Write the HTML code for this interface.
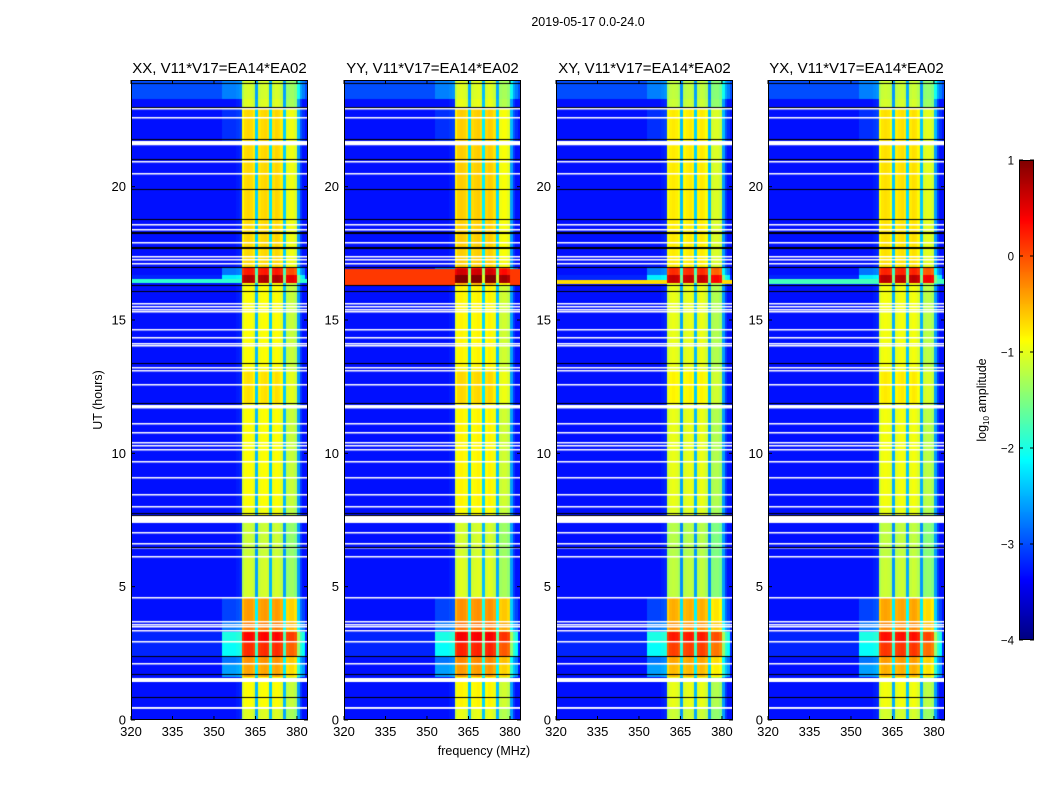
<!DOCTYPE html>
<html><head><meta charset="utf-8">
<style>
body{margin:0;background:#fff;font-family:"Liberation Sans","DejaVu Sans",sans-serif;}
#wrap{position:relative;width:1050px;height:800px;overflow:hidden;background:#fff;}
canvas{position:absolute;}
svg{position:absolute;left:0;top:0;}
</style></head>
<body>
<div id="wrap">
<svg id="ov" width="1050" height="800"></svg>
</div>
<script>
// ---- data ----
const panelTitles = ["XX, V11*V17=EA14*EA02","YY, V11*V17=EA14*EA02","XY, V11*V17=EA14*EA02","YX, V11*V17=EA14*EA02"];
const xTicks = [320,335,350,365,380];
const yTicks = [0,5,10,15,20];
const cbTicks = [1,0,-1,-2,-3,-4];
// baseline log10 amplitude per 1 MHz channel, 320..383 MHz
const channelBase = [
-3.3,-3.3,-3.3,-3.3,-3.3,-3.3,-3.3,-3.3,-3.3,-3.3,
-3.3,-3.3,-3.3,-3.3,-3.3,-3.3,-3.3,-3.3,-3.3,-3.3,
-3.3,-3.3,-3.3,-3.3,-3.3,-3.3,-3.3,-3.3,-3.3,-3.3,
-3.3,-3.3,-3.3,-3.3,-3.3,-3.3,-3.3,-3.3,-3.25,-3.2,
-1.1,-0.95,-0.92,-0.95,-1.05,-2.5,
-1.0,-0.95,-0.92,-0.98,-2.4,
-0.98,-0.92,-0.95,-1.05,-2.5,
-1.25,-1.2,-1.2,-1.3,-2.6,
-3.1,-3.3,-3.3];
// time segments (hours): band boost, halo boost, background offset
const segStart = [0,   0.45,1.6, 2.1, 2.4, 2.9, 3.3, 3.7, 4.6, 6.1, 7.7, 8.0, 11.9,13.1,16.37,16.7,17.0,21.7,23.0,23.3];
const segEnd   = [0.45,1.6, 2.1, 2.4, 2.9, 3.3, 3.7, 4.6, 6.1, 7.7, 8.0, 11.9,13.1,16.37,16.7,17.0,21.7,23.0,23.3,24];
const segBoost = [-0.1,0.05,0.5, 0.6, 1.1, 1.3, 0.7, 0.55,-0.15,-0.2,0,   0.05,0.2, 0.05,1.7, 1.2, 0.25,0.25,-0.1,-0.15];
const segHalo  = [0,   0,   0.7, 0.5, 1.1, 1.2, 0.5, 0.25,0,   0,   0,   0,   0,   0,   1.0, 0.5, 0,   0.15,0,   0.25];
const segBg    = [0,   0,   0,   0,   0.1, 0.1, 0,   0,   0,   0,   0,   0,   0,   0,   0.1, 0,   0,   0,   0,   0.3];
// flagged (white) rows: start time, height (hours)
const whiteT = [0.42,1.42,2.1,2.9,3.33,3.48,3.56,3.67,4.57,6.1,6.43,6.6,7.0,7.38,7.98,8.43,9.06,9.66,10.1,10.26,10.38,10.75,11.08,11.68,12.55,13.08,13.2,14.03,14.1,14.3,14.6,15.3,15.36,15.47,15.6,17.1,17.23,17.35,17.86,18.35,18.54,20.45,20.9,21.55,22.55,22.9];
const whiteH = [0.07,0.15,0.05,0.05,0.05,0.04,0.04,0.04,0.05,0.05,0.05,0.05,0.05,0.26,0.05,0.05,0.05,0.05,0.05,0.05,0.05,0.05,0.05,0.13,0.05,0.05,0.05,0.05,0.05,0.05,0.05,0.05,0.05,0.05,0.05,0.05,0.05,0.05,0.05,0.05,0.05,0.05,0.05,0.16,0.05,0.05];
// black (zero) rows: time
const blackT = [0.86,1.72,2.4,6.5,7.68,7.75,11.87,13.37,16.08,16.3,17.0,17.7,17.75,18.25,18.3,18.8,19.9,21.05,21.8,22.97,23.9];
// per-panel broadband stripe near 16.4 h
const stripeT0 = [16.37,16.3,16.35,16.35];
const stripeT1 = [16.55,16.93,16.5,16.55];
const stripeLevel = [-1.9,0.1,-0.7,-1.8];
const panelOffset = [0,0.05,-0.1,-0.05];

// ---- geometry ----
const panelX = [131,344,556,768], PW=177, PT=80, PH=640;
const fMin=320,fMax=384,tMin=0,tMax=24, vMin=-4, vMax=1;
const xs=(f,i)=>panelX[i]+(f-fMin)/(fMax-fMin)*PW;
const ys=t=>PT+PH-(t-tMin)/(tMax-tMin)*PH;
function jet(val){const n=Math.max(0,Math.min(1,(val-vMin)/(vMax-vMin)));
 const cl=x=>Math.round(255*Math.max(0,Math.min(1,x)));
 return [cl(1.5-Math.abs(4*n-3)),cl(1.5-Math.abs(4*n-2)),cl(1.5-Math.abs(4*n-1))];}
function segOf(t){for(let k=0;k<segStart.length;k++) if(t>=segStart[k]&&t<segEnd[k]) return k; return -1;}
const wrap=document.getElementById('wrap');
const NS="http://www.w3.org/2000/svg";
const ov=document.getElementById('ov');
function txt(x,y,s,size,anchor,name,rot){const e=document.createElementNS(NS,'text');
 e.setAttribute('x',x);e.setAttribute('y',y);e.setAttribute('font-size',size);
 e.setAttribute('text-anchor',anchor);e.setAttribute('fill','#000');
 e.setAttribute('font-family','"Liberation Sans","DejaVu Sans",sans-serif');
 if(rot) e.setAttribute('transform',rot);
 e.textContent=s;
 
 
 ov.appendChild(e);return e;}
function line(x1,y1,x2,y2,name,w){const e=document.createElementNS(NS,'line');
 e.setAttribute('x1',x1);e.setAttribute('y1',y1);e.setAttribute('x2',x2);e.setAttribute('y2',y2);
 e.setAttribute('stroke','#000');e.setAttribute('stroke-width',w||1);
 
 
 ov.appendChild(e);}
const nCh=channelBase.length;
function isBand(ch){const f=fMin+ch;return f>=360&&f<380;}
function isHalo(ch){const f=fMin+ch;return (f>=353&&f<360)||(f>=380&&f<383);}

for(let p=0;p<4;p++){
 const cv=document.createElement('canvas');
 cv.width=PW;cv.height=PH;cv.style.left=panelX[p]+'px';cv.style.top=PT+'px';
 
 
 wrap.insertBefore(cv,ov);
 const ctx=cv.getContext('2d');const img=ctx.createImageData(PW,PH);
 for(let y=0;y<PH;y++){
  const t=tMax-(y+0.5)/PH*(tMax-tMin);
  const k=segOf(t);
  const b=k>=0?segBoost[k]:0,h=k>=0?segHalo[k]:0,bg=k>=0?segBg[k]:0;
  const inStripe=t>=stripeT0[p]&&t<stripeT1[p];
  for(let x=0;x<PW;x++){
   const ch=Math.min(nCh-1,Math.floor((x+0.5)/PW*(fMax-fMin)));
   let v=channelBase[ch];
   if(isBand(ch)){v+= (v>-2?b:b*0.6)+panelOffset[p];}
   else if(isHalo(ch)){v+=h+bg;}
   else v+=bg;
   if(inStripe&&!isBand(ch)) v=Math.max(v,stripeLevel[p]);
   if(inStripe&&isBand(ch)&&p===1) v+=0.3;
   const col=jet(v);const i=(y*PW+x)*4;
   img.data[i]=col[0];img.data[i+1]=col[1];img.data[i+2]=col[2];img.data[i+3]=255;
  }
 }
 ctx.putImageData(img,0,0);
 for(let j=0;j<whiteT.length;j++){
  const y0=PH-(whiteT[j]+whiteH[j])/(tMax-tMin)*PH,y1=PH-whiteT[j]/(tMax-tMin)*PH;
  ctx.fillStyle='#fff';ctx.fillRect(0,Math.round(y0),PW,Math.max(1.5,y1-y0));
 }
 for(let j=0;j<blackT.length;j++){
  ctx.fillStyle='#000';ctx.fillRect(0,Math.round(PH-blackT[j]/(tMax-tMin)*PH),PW,1);
 }
 const r=document.createElementNS(NS,'rect');
 r.setAttribute('x',panelX[p]+0.5);r.setAttribute('y',PT+0.5);r.setAttribute('width',PW-1);r.setAttribute('height',PH-1);
 r.setAttribute('fill','none');r.setAttribute('stroke','#000');
 
 
 ov.appendChild(r);
 txt(panelX[p]+PW/2,73,panelTitles[p],15,'middle','panel-title');
 xTicks.forEach(f=>{const X=xs(f,p);line(X,PT+PH,X,PT+PH-4,'x-tick');line(X,PT,X,PT+4,'x-tick');
  txt(X,736,String(f),13,'middle','x-tick-label');});
 yTicks.forEach(t=>{const Y=ys(t);line(panelX[p],Y,panelX[p]+4,Y,'y-tick');line(panelX[p]+PW,Y,panelX[p]+PW-4,Y,'y-tick');
  txt(panelX[p]-5,Y+4.5,String(t),13,'end','y-tick-label');});
}
txt(588,26,"2019-05-17 0.0-24.0",12.5,'middle','figure-title');
txt(484,755,"frequency (MHz)",12.5,'middle','x-axis-title');
txt(102,400,"UT (hours)",12.5,'middle','y-axis-title','rotate(-90 102 400)');
// colorbar
const cbX=1019,cbW=15,cbT=160,cbH=480;
const cb=document.createElement('canvas');cb.width=cbW;cb.height=cbH;
cb.style.left=cbX+'px';cb.style.top=cbT+'px';


wrap.insertBefore(cb,ov);
const cctx=cb.getContext('2d');
for(let y=0;y<cbH;y++){const c=jet(vMax-(y+0.5)/cbH*(vMax-vMin));cctx.fillStyle=`rgb(${c[0]},${c[1]},${c[2]})`;cctx.fillRect(0,y,cbW,1);}
const cr=document.createElementNS(NS,'rect');
cr.setAttribute('x',cbX+0.5);cr.setAttribute('y',cbT+0.5);cr.setAttribute('width',cbW-1);cr.setAttribute('height',cbH-1);
cr.setAttribute('fill','none');cr.setAttribute('stroke','#000');


ov.appendChild(cr);
cbTicks.forEach(v=>{const Y=cbT+(vMax-v)/(vMax-vMin)*cbH;line(cbX,Y,cbX+4,Y,'colorbar-tick');line(cbX+cbW,Y,cbX+cbW-4,Y,'colorbar-tick');
 txt(1014,Y+4.5,v<0?'\u2212'+(-v):String(v),11.5,'end','colorbar-tick-label');});
const lab=txt(986,400,"",12.5,'middle','colorbar-label','rotate(-90 986 400)');
const t1=document.createElementNS(NS,'tspan');t1.textContent='log';lab.appendChild(t1);
const t2=document.createElementNS(NS,'tspan');t2.textContent='10';t2.setAttribute('font-size','8');t2.setAttribute('dy','3');lab.appendChild(t2);
const t3=document.createElementNS(NS,'tspan');t3.textContent=' amplitude';t3.setAttribute('dy','-3');lab.appendChild(t3);
</script>
</body></html>
